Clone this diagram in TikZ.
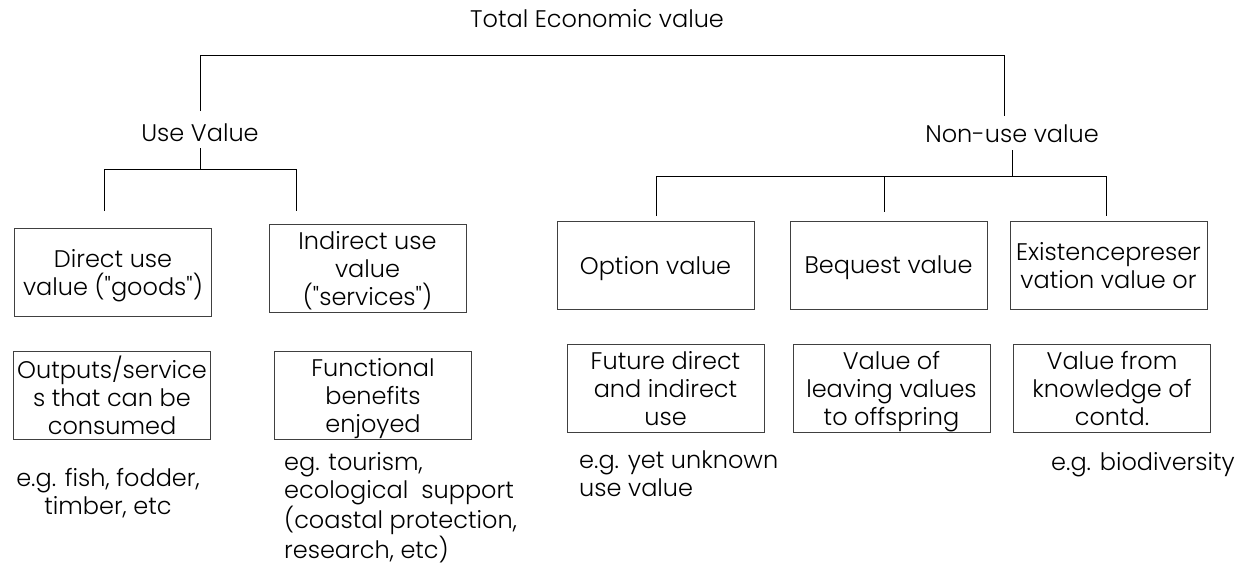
\documentclass[tikz,border=0pt]{standalone}
\usepackage{fontspec}
\setmainfont{Poppins}[UprightFont=* Light, Ligatures=TeXOff]
\begin{document}
\begin{tikzpicture}[x=1pt,y=-1pt,
  txt/.style={font=\fontsize{24}{28}\selectfont, inner sep=0pt, align=center},
  vbox/.style={txt, text depth=0pt, draw=black!75, line width=0.9pt, minimum width=197pt, minimum height=88pt},
  conn/.style={draw=black, line width=0.9pt}]
\useasboundingbox (0,0) rectangle (1245,573);
% titles
\node[txt] (tev) at (597,19) {Total Economic value};
\node[txt] (use) at (200,133) {Use Value};
\node[txt] (nonuse) at (1012,134) {Non-use value};
% first row boxes
\node[vbox] (direct) at (113,272) {Direct use\\value ("goods")};
\node[vbox] (indirect) at (367.5,268.5) {Indirect use\\value\\("services")};
\node[vbox] (option) at (655.5,265) {Option value};
\node[vbox] (bequest) at (888.5,265) {Bequest value};
\node[vbox] (exist) at (1108.5,265) {Existencepreser\\vation value or};
% second row boxes
\node[vbox] (outputs) at (112,395) {Outputs/service\\s that can be\\consumed};
\node[vbox] (functional) at (373,395.5) {Functional\\benefits\\enjoyed};
\node[vbox] (future) at (665.5,388.5) {Future direct\\and indirect\\use};
\node[vbox] (leaving) at (891.5,388.5) {Value of\\leaving values\\to offspring};
\node[vbox] (knowledge) at (1112,388.5) {Value from\\knowledge of\\contd.};
% examples
\node[txt] (eg1) at (108,493) {e.g. fish, fodder,\\timber, etc};
\node[txt, anchor=west, align=left] (eg2) at (284,507.5) {eg. tourism,\\ecological\ \ support\\(coastal protection,\\research, etc)};
\node[txt, anchor=west, align=left] (eg3) at (579,474) {e.g. yet unknown\\use value};
\node[txt] (eg4) at (1143,465) {e.g. biodiversity};
% connector coordinates
\coordinate (a1) at (200,111);
\coordinate (a2) at (200,55);
\coordinate (a3) at (1004,55);
\coordinate (a4) at (1004,116);
\coordinate (u1) at (200,148);
\coordinate (u2) at (200,169);
\coordinate (ul) at (104,169);
\coordinate (ur) at (296,169);
\coordinate (uld) at (104,211);
\coordinate (urd) at (296,211);
\coordinate (n1) at (1012,150);
\coordinate (n2) at (1012,176);
\coordinate (nl) at (656,176);
\coordinate (nm) at (884,176);
\coordinate (nr) at (1106,176);
\coordinate (nld) at (656,216);
\coordinate (nmd) at (884,212);
\coordinate (nrd) at (1106,216);
% connectors
\draw[conn] (a1) -- (a2) -- (a3) -- (a4);
\draw[conn] (u1) -- (u2);
\draw[conn] (uld) -- (ul) -- (ur) -- (urd);
\draw[conn] (n1) -- (n2);
\draw[conn] (nld) -- (nl) -- (nr) -- (nrd);
\draw[conn] (nm) -- (nmd);
\end{tikzpicture}
\end{document}
